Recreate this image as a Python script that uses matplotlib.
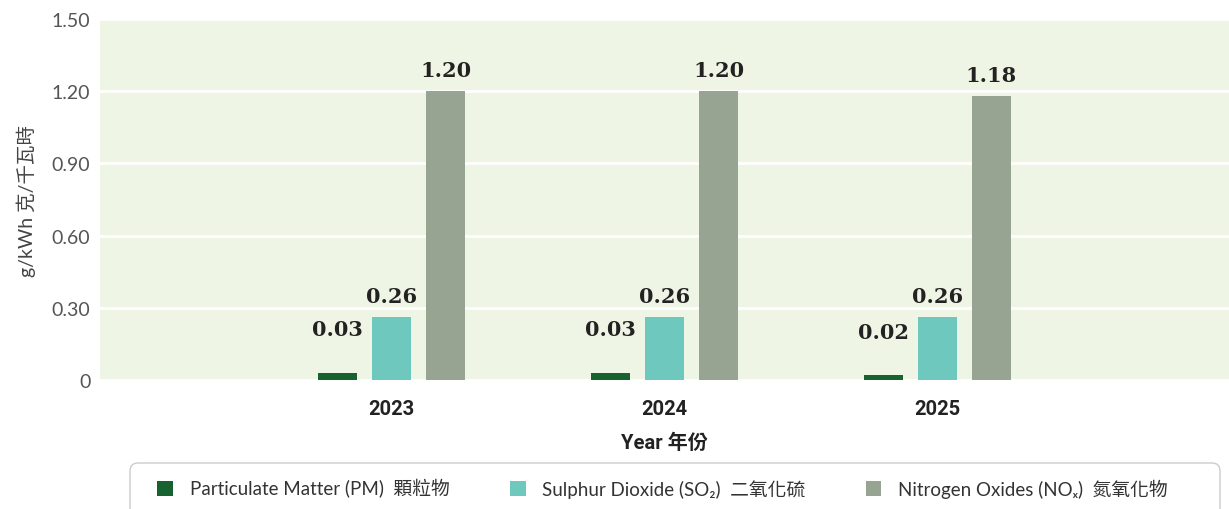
import matplotlib
matplotlib.use("Agg")
import matplotlib.pyplot as plt
from matplotlib.patches import FancyBboxPatch
import numpy as np

years = ["2023", "2024", "2025"]
pm = [0.03, 0.03, 0.02]
so2 = [0.26, 0.26, 0.26]
nox = [1.20, 1.20, 1.18]
series_names = ["Particulate Matter (PM)  顆粒物",
                "Sulphur Dioxide (SO\u2082)  二氧化硫",
                "Nitrogen Oxides (NO\u2093)  氮氧化物"]
yticks = [0, 0.30, 0.60, 0.90, 1.20, 1.50]
ytick_labels = ["0", "0.30", "0.60", "0.90", "1.20", "1.50"]

colors = ["#17622f", "#6fc8bd", "#98a492"]
label_offsets = [24, 8, 8]  # points above bar top
sans = ["Lato", "Noto Sans CJK TC", "DejaVu Sans"]
bold_sans = ["Roboto", "Noto Sans CJK TC", "DejaVu Sans"]
plt.rcParams["font.family"] = sans

fig = plt.figure(figsize=(12.29, 5.10), dpi=100)
ax = fig.add_axes([0.0814, 0.2529, 0.9186, 0.7079])
ax.set_facecolor("#eef5e4")

x = np.arange(len(years))
width = 0.143
step = 0.198
handles = []
for i, vals in enumerate([pm, so2, nox]):
    pos = x + (i - 1) * step
    b = ax.bar(pos, vals, width=width, color=colors[i], zorder=3, label=series_names[i])
    handles.append(b)
    for p, v in zip(pos, vals):
        ax.annotate(f"{v:.2f}", (p, v), xytext=(0, label_offsets[i]), textcoords="offset points",
                    ha="center", va="bottom", fontsize=15, fontweight="bold",
                    family="DejaVu Serif", color="#222222")

ax.set_xlim(-1.07, 3.07)
ax.set_ylim(0, 1.5)
ax.set_yticks(yticks)
ax.set_yticklabels(ytick_labels)
ax.yaxis.grid(True, color="white", linewidth=2, zorder=0)
ax.set_axisbelow(True)
for s in ax.spines.values():
    s.set_visible(False)
ax.tick_params(axis="both", length=0)
ax.tick_params(axis="y", labelsize=14, labelcolor="#555555", pad=7)
ax.set_xticks(x)
ax.set_xticklabels(years, fontsize=14.5, fontweight="bold", color="#222222", family=bold_sans)
ax.tick_params(axis="x", pad=14)
ax.set_xlabel("Year 年份", fontsize=14.5, fontweight="bold", color="#222222", labelpad=10,
              family=bold_sans)
ax.set_ylabel("g/kWh 克/千瓦時", fontsize=14, color="#444444", labelpad=11)

# legend frame drawn in pixels so it can run off the bottom edge
frame = FancyBboxPatch((130, -12), 1090, 58, boxstyle="round,pad=0,rounding_size=8",
                       transform=None, facecolor="white", edgecolor="#cccccc", linewidth=1)
fig.add_artist(frame)
leg = fig.legend(handles=handles, labels=series_names, loc="center left",
                 bbox_to_anchor=(157 / 1229, 1 - 489 / 510), ncol=3, frameon=False,
                 fontsize=13.5, handlelength=0.85, handleheight=0.85, handletextpad=0.9,
                 columnspacing=3.2, borderpad=0, borderaxespad=0)
for t in leg.get_texts():
    t.set_color("#333333")

fig.savefig("out.png", dpi=100)
